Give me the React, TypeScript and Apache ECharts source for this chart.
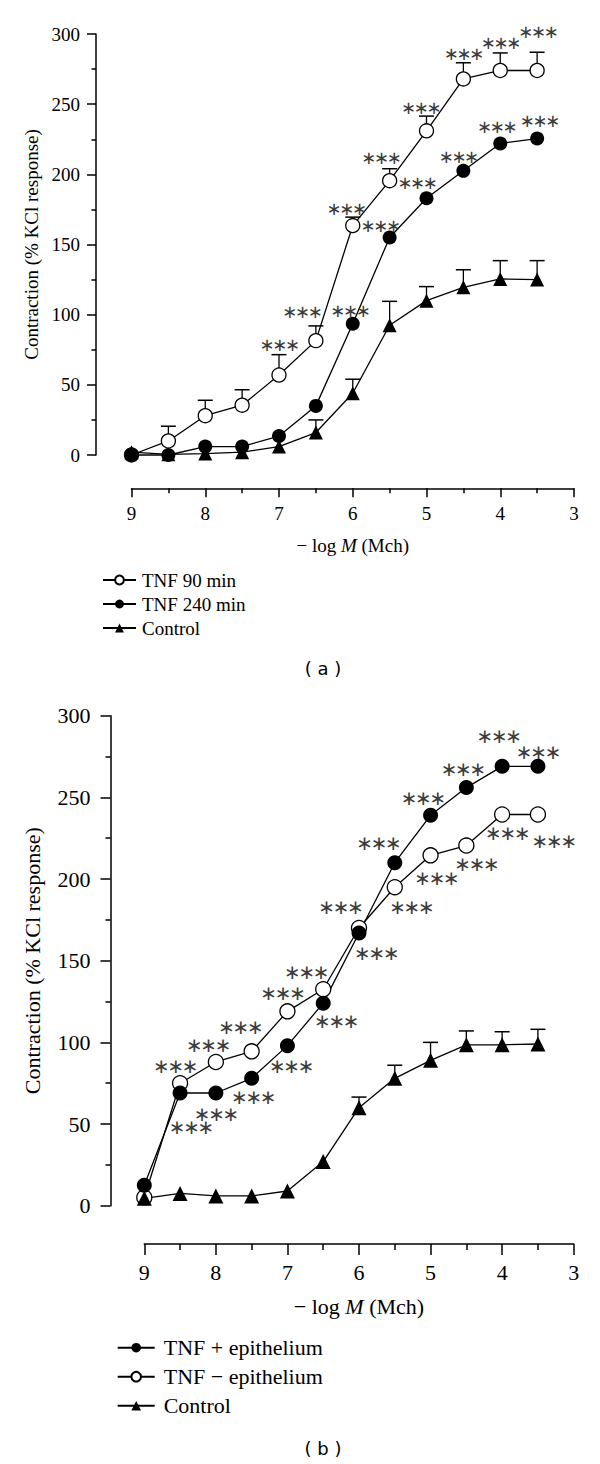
import React, { useEffect, useRef } from "react";
import * as echarts from "echarts";

// ---------- data ----------
const doses = [9, 8.5, 8, 7.5, 7, 6.5, 6, 5.5, 5, 4.5, 4, 3.5];

// panel (a)
const tnf90 = [0, 10, 28, 35.5, 57, 81.5, 163.5, 195.5, 231, 268, 274, 274];
const tnf90Err = [0, 10.5, 11, 11, 14.5, 10.5, 6, 8.5, 10.5, 11.5, 12.5, 13];
const tnf240 = [0, 0, 6, 6, 13.5, 35, 93.5, 155, 183, 202.5, 222, 225.5];
const controlA = [2, 0.5, 1, 2, 6, 16, 44, 92.5, 110, 119.5, 125.5, 125];
const controlAErr = [0, 0, 0, 0, 0, 9, 10, 17, 10, 12.5, 13, 13.5];
const starsA: [number, number][] = [
  [4.49, 286.3], [3.99, 293.8], [3.48, 301.6], [5.07, 247.8], [5.61, 212.1],
  [6.08, 175.8], [5.62, 163.2], [5.12, 194], [4.56, 212.6], [4.04, 234.4],
  [3.46, 238.7], [6.99, 78.9], [6.68, 102.1], [6.03, 103.3],
];

// panel (b)
const tnfPlus = [12.5, 69, 69, 78, 98, 124, 167, 210, 239, 256, 269, 269];
const tnfMinus = [5, 75, 88, 94.5, 119, 132.5, 170, 195, 214.5, 220.5, 239.5, 239.5];
const controlB = [4.5, 7.5, 6, 6, 9, 27, 60, 78, 89, 98.5, 98.5, 99];
const controlBErr = [0, 0, 0, 0, 0, 0, 6.5, 8, 11, 8.5, 8, 9];
const starsB: [number, number][] = [
  [4.04, 287.8], [3.49, 278], [4.54, 267.4], [5.1, 249.4], [5.72, 221.9],
  [6.25, 182.7], [3.92, 228], [3.27, 223.5], [4.35, 209.2], [4.91, 200.4],
  [5.26, 182.7], [5.75, 154.5], [6.73, 143.3], [7.06, 130], [7.65, 109.6],
  [8.1, 98.4], [8.56, 85.5], [6.31, 113.1], [6.94, 85.5], [7.47, 66.7],
  [7.99, 56.1], [8.34, 48.4],
];

const namesA = ["TNF 90 min", "TNF 240 min", "Control"];
const namesB = ["TNF + epithelium", "TNF \u2212 epithelium", "Control"];
const yName = "Contraction (% KCl response)";
const xName = "{n|\u2212 log }{i|M}{n| (Mch)}";
const yTicks = { min: 0, max: 300, interval: 50 };
const xTicks = { min: 3, max: 9, interval: 1 };

const SERIF = "'Liberation Serif', 'Times New Roman', serif";
const STAR_COLOR = "#3c3c3c";

function pairs(vals: number[]) {
  return doses.map((d, i) => [d, vals[i]]);
}
function errRows(vals: number[], errs: number[]) {
  return doses.map((d, i) => [d, vals[i], errs[i]]).filter((r) => r[2] > 0);
}

function errRender(capHalf: number) {
  return (_p: any, api: any) => {
    const x = api.value(0);
    const y = api.value(1);
    const e = api.value(2);
    const p = api.coord([x, y]);
    const t = api.coord([x, y + e]);
    return {
      type: "group",
      children: [
        { type: "line", shape: { x1: p[0], y1: p[1], x2: t[0], y2: t[1] }, style: { stroke: "#000", lineWidth: 1.3 } },
        { type: "line", shape: { x1: t[0] - capHalf, y1: t[1], x2: t[0] + capHalf, y2: t[1] }, style: { stroke: "#000", lineWidth: 1.5 } },
      ],
    };
  };
}

// three asterisks, spaced evenly around the annotation point
function starRender(fontSize: number, step: number) {
  return (_p: any, api: any) => {
    const p = api.coord([api.value(0), api.value(1)]);
    return {
      type: "group",
      children: [-1, 0, 1].map((k) => ({
        type: "text",
        x: p[0] + k * step,
        y: p[1],
        style: {
          text: "\u2217",
          fontSize,
          lineHeight: 10,
          fontFamily: "'DejaVu Sans', sans-serif",
          fill: STAR_COLOR,
          align: "center",
          verticalAlign: "middle",
        },
      })),
    };
  };
}

function xAxisCfg(gridIndex: number, offset: number, fs: number, margin: number, tickLen: number, minorLen: number, nameGap: number) {
  return {
    type: "value",
    gridIndex,
    ...xTicks,
    inverse: true,
    position: "bottom",
    offset,
    axisLine: { show: true, onZero: false, lineStyle: { color: "#000", width: 1.5 } },
    axisTick: { show: true, length: tickLen, lineStyle: { color: "#000", width: 1.5 } },
    minorTick: { show: true, splitNumber: 2, length: minorLen, lineStyle: { color: "#000", width: 1.5 } },
    splitLine: { show: false },
    minorSplitLine: { show: false },
    axisLabel: { color: "#000", fontFamily: SERIF, fontSize: fs, margin },
    name: xName,
    nameLocation: "middle",
    nameGap,
    nameTextStyle: {
      color: "#000",
      rich: {
        n: { fontFamily: SERIF, fontSize: fs, color: "#000" },
        i: { fontFamily: SERIF, fontSize: fs, fontStyle: "italic", color: "#000" },
      },
    },
  };
}

function yAxisCfg(gridIndex: number, offset: number, fs: number, margin: number, tickLen: number, minorLen: number, nameGap: number, nameFs: number) {
  return {
    type: "value",
    gridIndex,
    ...yTicks,
    position: "left",
    offset,
    axisLine: { show: true, onZero: false, lineStyle: { color: "#000", width: 1.5 } },
    axisTick: { show: true, length: tickLen, lineStyle: { color: "#000", width: 1.5 } },
    minorTick: { show: true, splitNumber: 2, length: minorLen, lineStyle: { color: "#000", width: 1.5 } },
    splitLine: { show: false },
    minorSplitLine: { show: false },
    axisLabel: { color: "#000", fontFamily: SERIF, fontSize: fs, margin },
    name: yName,
    nameLocation: "middle",
    nameRotate: 90,
    nameGap,
    nameTextStyle: { color: "#000", fontFamily: SERIF, fontSize: nameFs },
  };
}

function lineSeries(name: string, data: number[], grid: number, kind: "open" | "filled" | "tri", size: number) {
  const itemStyle =
    kind === "open"
      ? { color: "#fff", borderColor: "#000", borderWidth: 1.3 }
      : { color: "#000", borderColor: "#000", borderWidth: 0 };
  return {
    type: "line",
    name,
    xAxisIndex: grid,
    yAxisIndex: grid,
    data: pairs(data),
    symbol: kind === "tri" ? "triangle" : "circle",
    symbolSize: size,
    showAllSymbol: true,
    clip: false,
    z: 3,
    lineStyle: { color: "#000", width: 1.3 },
    itemStyle,
    emphasis: { disabled: true },
  };
}

export default function App() {
  const ref = useRef<HTMLDivElement>(null);

  useEffect(() => {
    document.body.style.margin = "0";
    if (!ref.current) return;
    const chart = echarts.init(ref.current, undefined, { renderer: "svg" });

    const option: any = {
      animation: false,
      backgroundColor: "#fff",
      grid: [
        { left: 131.5, right: 26, top: 34, height: 421 },
        { left: 144.3, right: 26.3, top: 715.7, height: 490 },
      ],
      xAxis: [
        xAxisCfg(0, 33.3, 19, 15.5, 9, 5, 48),
        xAxisCfg(1, 38.3, 22, 17.5, 11, 6, 51.5),
      ],
      yAxis: [
        yAxisCfg(0, 35.5, 19, 16, 9, 4.5, 54, 19),
        yAxisCfg(1, 33.8, 22, 20, 10, 5, 67, 22),
      ],
      legend: [
        {
          data: namesA,
          orient: "vertical",
          left: 97,
          top: 565.5,
          itemWidth: 33,
          itemHeight: 11,
          itemGap: 5,
          selectedMode: false,
          textStyle: { fontFamily: SERIF, fontSize: 19, color: "#000", lineHeight: 19, padding: [0, 0, 0, 1] },
        },
        {
          data: namesB,
          orient: "vertical",
          left: 111.7,
          top: 1331.7,
          itemWidth: 37,
          itemHeight: 12,
          itemGap: 7,
          selectedMode: false,
          textStyle: { fontFamily: SERIF, fontSize: 22, color: "#000", lineHeight: 22, padding: [0, 0, 0, 4] },
        },
      ],
      graphic: [
        {
          type: "text",
          x: 323,
          y: 668,
          style: { text: "( a )", fontSize: 18, fontFamily: "'DejaVu Sans', sans-serif", fill: "#000", align: "center", verticalAlign: "middle" },
        },
        {
          type: "text",
          x: 323,
          y: 1448,
          style: { text: "( b )", fontSize: 18, fontFamily: "'DejaVu Sans', sans-serif", fill: "#000", align: "center", verticalAlign: "middle" },
        },
      ],
      series: [
        // panel (a)
        { type: "custom", name: "errA90", xAxisIndex: 0, yAxisIndex: 0, data: errRows(tnf90, tnf90Err), renderItem: errRender(7.5), z: 1, silent: true },
        { type: "custom", name: "errACtl", xAxisIndex: 0, yAxisIndex: 0, data: errRows(controlA, controlAErr), renderItem: errRender(7.5), z: 1, silent: true },
        lineSeries(namesA[0], tnf90, 0, "open", 14),
        lineSeries(namesA[2], controlA, 0, "tri", 14),
        lineSeries(namesA[1], tnf240, 0, "filled", 14),
        { type: "custom", name: "starsA", xAxisIndex: 0, yAxisIndex: 0, data: starsA, renderItem: starRender(18, 12.7), itemStyle: { color: STAR_COLOR }, z: 4, silent: true },
        // panel (b)
        { type: "custom", name: "errBCtl", xAxisIndex: 1, yAxisIndex: 1, data: errRows(controlB, controlBErr), renderItem: errRender(7.5), z: 1, silent: true },
        lineSeries(namesB[1], tnfMinus, 1, "open", 15),
        lineSeries(namesB[0], tnfPlus, 1, "filled", 15),
        lineSeries(namesB[2], controlB, 1, "tri", 15),
        { type: "custom", name: "starsB", xAxisIndex: 1, yAxisIndex: 1, data: starsB, renderItem: starRender(20, 14.4), itemStyle: { color: STAR_COLOR }, z: 4, silent: true },
      ],
    };

    chart.setOption(option);
    return () => {
      chart.dispose();
    };
  }, []);

  return <div ref={ref} style={{ width: 600, height: 1464 }} />;
}
